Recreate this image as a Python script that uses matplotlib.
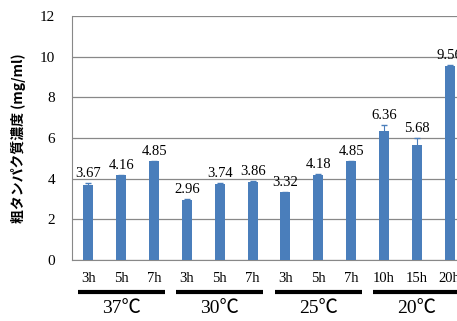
import matplotlib
matplotlib.use('Agg')
from matplotlib import pyplot as plt
from matplotlib import transforms

jikan = ['3h', '5h', '7h', '3h', '5h', '7h', '3h', '5h', '7h', '10h', '15h', '20h']
nodo = [3.67, 4.16, 4.85, 2.96, 3.74, 3.86, 3.32, 4.18, 4.85, 6.36, 5.68, 9.56]
gosa = [0.1, 0.03, 0.04, 0.04, 0.03, 0.03, 0.03, 0.03, 0.03, 0.3, 0.3, 0.04]
ondo = ['37℃', '30℃', '25℃', '20℃']
kazu = [3, 3, 3, 3]

serif = ['Liberation Serif', 'Noto Sans CJK JP']

fig = plt.figure(figsize=(4.57, 3.21), dpi=100)
ax = fig.add_axes([72 / 457, 61 / 321, 394 / 457, 244 / 321])

x = list(range(len(nodo)))
ax.bar(x, nodo, width=0.3, color='#4a7ebb', zorder=3)
ax.errorbar(x, nodo, yerr=gosa, fmt='none', ecolor='#4a7ebb', elinewidth=0.8,
            capsize=2.5, zorder=4)

for i, (v, e) in enumerate(zip(nodo, gosa)):
    ax.text(i, v + e + 0.15, f'{v:.2f}', ha='center', va='bottom',
            fontsize=10.5, family=serif, zorder=5)

ax.set_xlim(-0.5, len(nodo) - 0.5)
ax.set_ylim(0, 12)
ax.set_yticks(range(0, 13, 2))
ax.set_xticks(x)
ax.set_xticklabels(jikan, family=serif, fontsize=10.5)
for lab in ax.get_yticklabels():
    lab.set_family(serif)
    lab.set_fontsize(11)
ax.tick_params(axis='x', length=0, pad=9)
ax.tick_params(axis='y', length=0, pad=12)
ax.yaxis.grid(True, color='#888888', linewidth=0.9, zorder=0)
for s in ['top', 'right']:
    ax.spines[s].set_visible(False)
ax.spines['left'].set_color('#888888')
ax.spines['bottom'].set_color('#888888')

ax.set_ylabel('粗タンパク質濃度 (mg/ml)', family=['Noto Sans CJK JP', 'DejaVu Sans'],
              fontweight='bold', fontsize=10, labelpad=10)

trans = transforms.blended_transform_factory(ax.transData, ax.transAxes)
start = 0
for name, n in zip(ondo, kazu):
    ax.plot([start - 0.33, start + n - 0.67], [-0.131, -0.131], color='black',
            linewidth=3, transform=trans, clip_on=False, solid_capstyle='butt')
    ax.text(start + (n - 1) / 2, -0.165, name, ha='center', va='top',
            fontsize=14, family=serif, transform=trans)
    start += n

fig.savefig('out.png', dpi=100)
